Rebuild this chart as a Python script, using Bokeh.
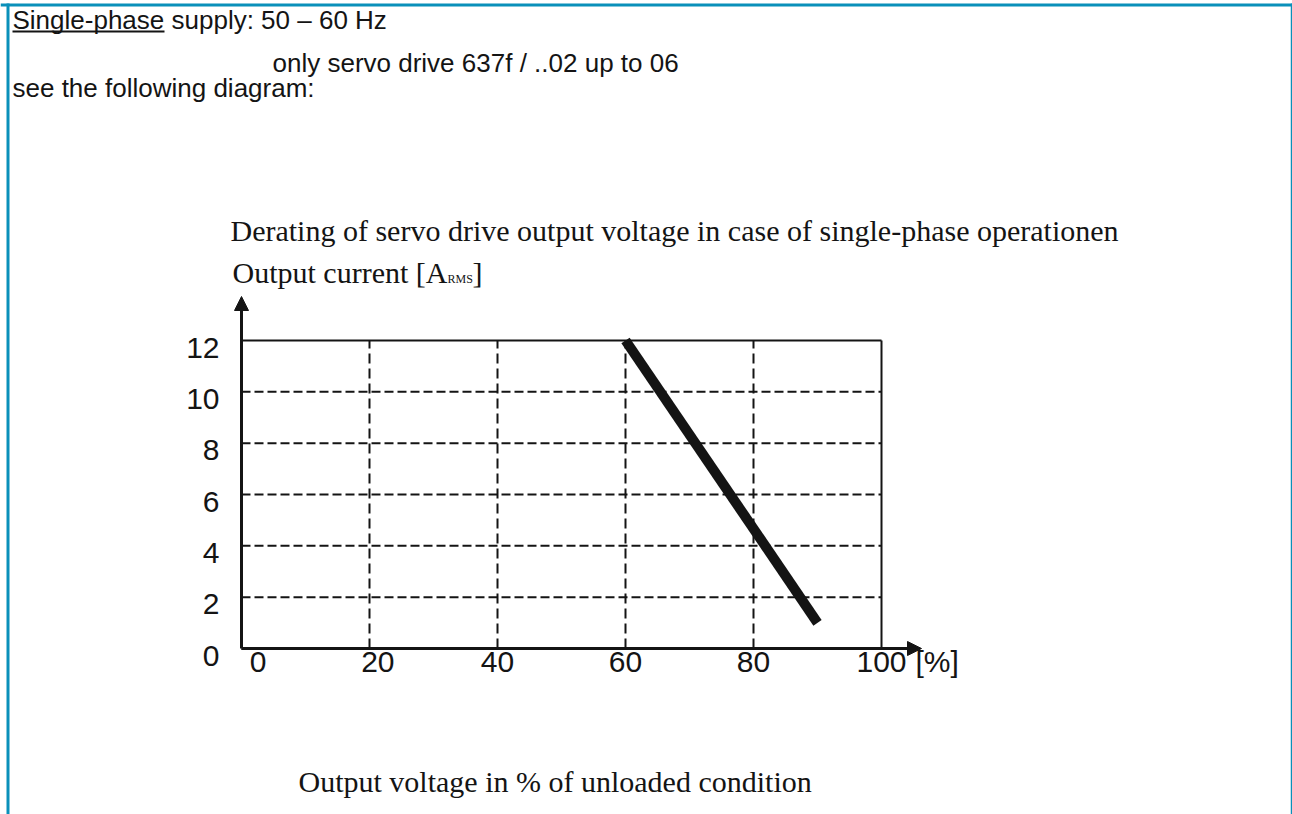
from bokeh.plotting import figure
from bokeh.models import Range1d, Label, Arrow, NormalHead, FixedTicker, LinearAxis
from bokeh.embed import file_html
from bokeh.resources import INLINE

# ---- data ----
x_ticks = [0, 20, 40, 60, 80, 100]
y_ticks = [0, 2, 4, 6, 8, 10, 12]
curve_x = [60, 90]          # output voltage in % of unloaded condition
curve_y = [12, 1]           # output current [A_RMS]
x_tick_labels = {0: "\u2007\u20070", 20: "\u200720"}   # labels printed a little right of their line

line1_underlined = "Single-phase"
line1_rest = " supply: 50 \u2013 60 Hz"
line2 = "only servo drive 637f / ..02 up to 06"
line3 = "see the following diagram:"
chart_title = "Derating of servo drive output voltage in case of single-phase operationen"
y_title = "Output current [A"
y_title_sub = "RMS"
y_title_end = "]"
x_unit = "[%]"
x_title = "Output voltage in % of unloaded condition"

# ---- layout (page pixels) ----
W, H = 1292, 814
PX0, PX1 = 241, 881     # x = 0 .. 100
PY0, PY1 = 648, 340     # y = 0 .. 12
XMAX, YMAX = x_ticks[-1], y_ticks[-1]
Y_LABEL_DROP = 7        # y tick labels sit slightly below their lines


def dx(px):
    return (px - PX0) / ((PX1 - PX0) / XMAX)


def dy(py):
    return (PY0 - py) / ((PY0 - PY1) / YMAX)


INK = "#141414"
BLUE = "#0a90ba"
SANS = "Liberation Sans"
SERIF = "Liberation Serif"

p = figure(width=W, height=H, x_range=Range1d(dx(0), dx(W)), y_range=Range1d(dy(H), dy(0)),
           output_backend="svg", toolbar_location=None, min_border=0)
shift = Y_LABEL_DROP / ((PY0 - PY1) / YMAX)
p.extra_y_ranges = {"lab": Range1d(dy(H) + shift, dy(0) + shift)}
p.background_fill_color = "white"
p.border_fill_color = "white"
p.outline_line_color = None
p.xgrid.visible = False
p.ygrid.visible = False

# dashed grid inside the chart box
gx = x_ticks[1:-1]
gy = y_ticks[1:-1]
p.segment(x0=gx, y0=[0] * len(gx), x1=gx, y1=[YMAX] * len(gx),
          line_color=INK, line_width=2, line_dash="10 5")
p.segment(x0=[0] * len(gy), y0=gy, x1=[XMAX] * len(gy), y1=gy,
          line_color=INK, line_width=2, line_dash="9 4")
# top and right edges of the chart box
p.segment(x0=[0, XMAX], y0=[YMAX, 0], x1=[XMAX, XMAX], y1=[YMAX, YMAX],
          line_color=INK, line_width=2)

p.line(curve_x, curve_y, line_width=10, line_color=INK, line_cap="butt")

# x axis
p.xaxis.ticker = FixedTicker(ticks=x_ticks)
p.xaxis.fixed_location = 0
p.xaxis.bounds = (0, XMAX)
p.xaxis.major_label_overrides = x_tick_labels
p.xaxis.major_label_standoff = -10
# y axis: default one hidden, labelled one on the label range
p.yaxis.visible = False
yax = LinearAxis(y_range_name="lab", fixed_location=0, ticker=FixedTicker(ticks=y_ticks))
p.add_layout(yax, "left")
yax.major_label_standoff = 16
for ax in (p.xaxis[0], yax):
    ax.axis_line_color = INK if ax is not yax else None
    ax.axis_line_width = 3
    ax.major_tick_line_color = None
    ax.minor_tick_line_color = None
    ax.major_label_text_font = SANS
    ax.major_label_text_font_size = "30px"
    ax.major_label_text_color = INK

# axis arrows (the y arrow also forms the y axis line)
p.add_layout(Arrow(end=NormalHead(size=14, fill_color=INK, line_color=INK, line_width=1),
                   x_start=0, y_start=0, x_end=0, y_end=dy(296),
                   line_width=3, line_color=INK))
p.add_layout(Arrow(end=NormalHead(size=14, fill_color=INK, line_color=INK, line_width=1),
                   x_start=0, y_start=0, x_end=dx(921), y_end=0,
                   line_width=3, line_color=INK))

# blue frame of the page
for xs, ys, xe, ye, w in [(0, 4.5, W, 4.5, 3), (7.5, 3, 7.5, H, 3), (1291, 3, 1291, H, 1.5)]:
    p.add_layout(Arrow(end=None, x_start=dx(xs), y_start=dy(ys), x_end=dx(xe), y_end=dy(ye),
                       line_width=w, line_color=BLUE))


def txt(text, px, py, font, size, align="left"):
    p.add_layout(Label(x=dx(px), y=dy(py), text=text, text_font=font,
                       text_font_size=size, text_color=INK, text_align=align,
                       text_baseline="middle"))


# header text
txt(line1_underlined + line1_rest, 12, 19, SANS, "26px")
p.add_layout(Arrow(end=None, x_start=dx(12), y_start=dy(31), x_end=dx(164), y_end=dy(31),
                   line_width=2, line_color=INK))
txt(line2, 272, 62, SANS, "26px")
txt(line3, 12, 87, SANS, "26px")

# chart texts
txt(chart_title, 230, 230, SERIF, "30px")
txt(y_title, 232, 272, SERIF, "30px")
txt(y_title_sub, 447, 278, SERIF, "12px")
txt(y_title_end, 472, 272, SERIF, "30px")
txt(x_unit, 915, 661, SANS, "30px")
txt(x_title, 298, 781, SERIF, "30px")

open("out.html", "w").write(file_html(p, INLINE))
